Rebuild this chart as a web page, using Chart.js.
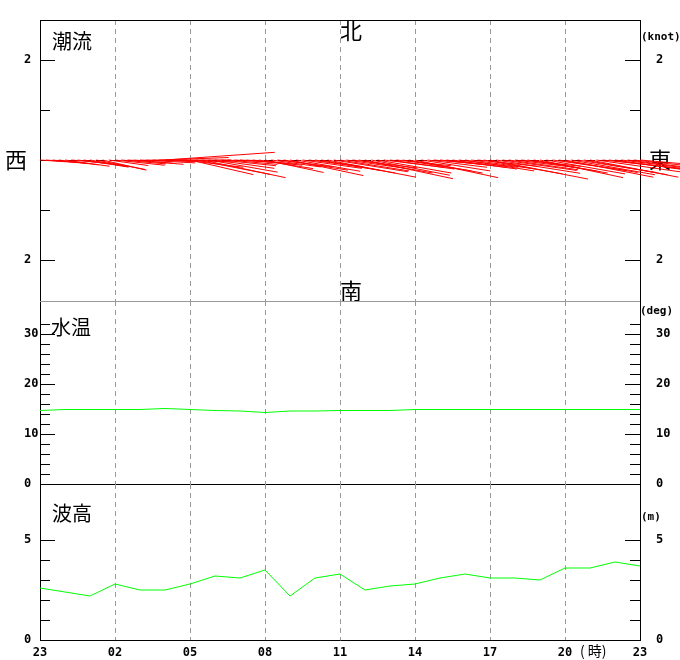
<!DOCTYPE html>
<html>
<head>
<meta charset="utf-8">
<script src="https://cdn.jsdelivr.net/npm/chart.js@4/dist/chart.umd.min.js"></script>
<style>
  body { margin: 0; background: #fff; }
  #wrap { position: relative; width: 680px; height: 660px; }
  canvas { position: absolute; left: 0; }
</style>
</head>
<body>
<div id="wrap">
  <canvas id="current" width="680" height="303" style="top:0"></canvas>
  <canvas id="temp" width="680" height="194" style="top:296px"></canvas>
  <canvas id="wave" width="680" height="180" style="top:480px"></canvas>
</div>
<script>
// hours counted from 23:00 of the previous day
const hours = [0, 1, 2, 3, 4, 5, 6, 7, 8, 9, 10, 11, 12, 13, 14, 15, 16, 17, 18, 19, 20, 21, 22, 23, 24];
const hourTicks = [0, 3, 6, 9, 12, 15, 18, 21, 24];
const hourLabels = ['23', '02', '05', '08', '11', '14', '17', '20', '23'];

// tidal current, every 15 min: speed (knot) and direction it flows to (deg)
const stickHours = [
  0, 0.25, 0.5, 0.75, 1, 1.25, 1.5, 1.75, 2, 2.25, 2.5, 2.75,
  3, 3.25, 3.5, 3.75, 4, 4.25, 4.5, 4.75, 5, 5.25, 5.5, 5.75,
  6, 6.25, 6.5, 6.75, 7, 7.25, 7.5, 7.75, 8, 8.25, 8.5, 8.75,
  9, 9.25, 9.5, 9.75, 10, 10.25, 10.5, 10.75, 11, 11.25, 11.5, 11.75,
  12, 12.25, 12.5, 12.75, 13, 13.25, 13.5, 13.75, 14, 14.25, 14.5, 14.75,
  15, 15.25, 15.5, 15.75, 16, 16.25, 16.5, 16.75, 17, 17.25, 17.5, 17.75,
  18, 18.25, 18.5, 18.75, 19, 19.25, 19.5, 19.75, 20, 20.25, 20.5, 20.75,
  21, 21.25, 21.5, 21.75, 22, 22.25, 22.5, 22.75, 23, 23.25, 23.5, 23.75, 24];
const stickSpeeds = [
  0.5, 0.6, 0.7, 0.8, 0.9, 0.7, 1.0, 0.9, 0.8, 1.0, 0.9, 0.8,
  1.0, 0.9, 0.9, 1.0, 1.1, 1.0, 1.2, 1.4, 2.2, 1.2, 1.1, 1.2,
  1.3, 1.5, 1.7, 1.4, 1.2, 1.1, 1.0, 0.9, 0.9, 1.0, 1.0, 1.1,
  1.2, 1.0, 1.1, 1.3, 1.5, 1.3, 1.2, 1.1, 1.3, 1.5, 1.8, 1.5,
  1.4, 1.2, 1.3, 1.5, 1.8, 1.6, 1.5, 1.2, 1.3, 1.1, 1.4, 1.5,
  1.7, 1.4, 1.2, 1.0, 1.1, 1.2, 1.3, 1.2, 1.4, 1.3, 1.2, 1.6,
  2.0, 1.7, 1.5, 1.4, 1.3, 1.2, 1.4, 1.5, 1.7, 1.6, 1.5, 1.6,
  1.8, 1.7, 1.6, 1.7, 1.8, 1.8, 1.7, 1.6, 1.5, 1.4, 1.3, 1.2, 1.0];
const stickDirs = [
  94, 95, 96, 97, 98, 95, 97, 99, 100, 101, 103, 98,
  96, 95, 94, 95, 93, 92, 91, 88, 86, 90, 92, 97,
  103, 101, 102, 100, 98, 96, 95, 93, 94, 95, 96, 99,
  102, 98, 97, 99, 102, 100, 98, 97, 99, 100, 101, 99,
  99, 98, 97, 100, 102, 101, 100, 97, 98, 96, 99, 100,
  102, 99, 97, 95, 96, 97, 98, 97, 99, 98, 96, 100,
  101, 99, 98, 98, 97, 96, 99, 100, 102, 100, 98, 99,
  101, 100, 99, 100, 101, 98, 96, 97, 98, 97, 97, 96, 95];

const waterTemp = [14.7, 14.9, 14.9, 14.9, 14.9, 15.1, 14.9, 14.7, 14.6, 14.3, 14.6, 14.6, 14.7,
  14.7, 14.7, 14.9, 14.9, 14.9, 14.9, 14.9, 14.9, 14.9, 14.9, 14.9, 14.9];
const waveHeight = [2.6, 2.4, 2.2, 2.8, 2.5, 2.5, 2.8, 3.2, 3.1, 3.5, 2.2, 3.1, 3.3,
  2.5, 2.7, 2.8, 3.1, 3.3, 3.1, 3.1, 3.0, 3.6, 3.6, 3.9, 3.7];

const knotTicks = [-2, -1, 1, 2];
const knotLabeled = [-2, 2];
const degTicks = [0, 2, 4, 6, 8, 10, 12, 14, 16, 18, 20, 22, 24, 26, 28, 30, 32];
const degLabeled = [0, 10, 20, 30];
const waveTicks = [0, 1, 2, 3, 4, 5];
const waveLabeled = [0, 5];

const tickFont = { family: 'DejaVu Sans Mono', size: 12, weight: 'bold' };
const unitFont = 'bold 11px "DejaVu Sans Mono"';
const titleFont = '20px "Noto Sans CJK JP"';
const dirFont = '22px "Noto Sans CJK JP"';
const lineGreen = '#00ff00';

function xAxis(showLabels) {
  return {
    type: 'linear', min: 0, max: 24,
    afterBuildTicks: s => { s.ticks = hourTicks.map(v => ({ value: v })); },
    afterFit: s => { s.height = showLabels ? 20 : 0; },
    grid: {
      drawTicks: false,
      color: c => (c.tick && c.tick.value % 24 === 0 ? 'rgba(0,0,0,0)' : '#999'),
    },
    border: { display: true, color: '#000', dash: [5, 4] },
    ticks: {
      display: showLabels, autoSkip: false, maxRotation: 0, padding: 6,
      color: '#000', font: tickFont,
      callback: (v, i) => hourLabels[i],
    },
  };
}

function yAxis(position, min, max, ticks, labeled) {
  return {
    type: 'linear', position, min, max,
    afterBuildTicks: s => { s.ticks = ticks.map(v => ({ value: v })); },
    afterFit: s => {
      s.width = position === 'left' ? 16 : 40;
      s.paddingTop = 0;
      s.paddingBottom = 0;
    },
    grid: { display: false },
    border: { display: true, color: '#000', width: 1 },
    ticks: {
      autoSkip: false, padding: 8, color: '#000', font: tickFont,
      crossAlign: position === 'left' ? 'far' : 'near',
      callback: v => (labeled.includes(v) ? String(Math.abs(v)) : ''),
    },
  };
}

// short tick marks drawn inwards from both vertical axes, plus the top edge
const innerTicks = {
  id: 'innerTicks',
  afterDraw(chart, args, opts) {
    const { ctx, chartArea: a } = chart;
    const ys = chart.scales.y;
    ctx.save();
    ctx.strokeStyle = '#000';
    ctx.lineWidth = 1;
    opts.values.forEach(v => {
      const y = Math.round(ys.getPixelForValue(v)) + 0.5;
      const len = opts.labeled.includes(v) ? 15 : 10;
      ctx.beginPath();
      ctx.moveTo(a.left, y);
      ctx.lineTo(a.left + len, y);
      ctx.moveTo(a.right, y);
      ctx.lineTo(a.right - len, y);
      ctx.stroke();
    });
    if (opts.topLine) {
      ctx.strokeStyle = opts.topLine;
      ctx.beginPath();
      ctx.moveTo(a.left, Math.round(a.top) + 0.5);
      ctx.lineTo(a.right, Math.round(a.top) + 0.5);
      ctx.stroke();
    }
    ctx.restore();
  }
};

// free texts (titles, compass points, units)
const texts = {
  id: 'texts',
  beforeDatasetsDraw(chart, args, opts) {
    const { ctx, chartArea: a } = chart;
    ctx.save();
    ctx.fillStyle = '#000';
    ctx.textBaseline = 'middle';
    opts.items(a, chart.scales).forEach(t => {
      ctx.font = t.font;
      ctx.textAlign = t.align || 'left';
      ctx.fillText(t.text, t.x, t.y);
    });
    ctx.restore();
  }
};

// current vectors from the zero line
const sticks = {
  id: 'sticks',
  beforeDatasetsDraw(chart) {
    const { ctx, chartArea: a, scales: { y } } = chart;
    const y0 = Math.round(y.getPixelForValue(0)) + 0.5;
    ctx.save();
    ctx.strokeStyle = '#000';
    ctx.lineWidth = 1;
    ctx.setLineDash([9, 5]);
    ctx.beginPath();
    ctx.moveTo(a.left, y0);
    ctx.lineTo(a.right, y0);
    ctx.stroke();
    ctx.restore();
  },
  afterDatasetsDraw(chart) {
    const { ctx, scales: { x, y } } = chart;
    const y0 = y.getPixelForValue(0);
    const k = y0 - y.getPixelForValue(1);
    ctx.save();
    ctx.strokeStyle = '#ff0000';
    ctx.lineWidth = 1;
    stickHours.forEach((h, i) => {
      const r = stickDirs[i] * Math.PI / 180;
      const x0 = x.getPixelForValue(h);
      ctx.beginPath();
      ctx.moveTo(x0, y0);
      ctx.lineTo(x0 + stickSpeeds[i] * Math.sin(r) * k, y0 - stickSpeeds[i] * Math.cos(r) * k);
      ctx.stroke();
    });
    ctx.restore();
  }
};

const common = {
  responsive: false,
  animation: false,
  devicePixelRatio: 1,
  events: [],
};

const noLegend = { legend: { display: false }, tooltip: { enabled: false } };

new Chart(document.getElementById('current'), {
  type: 'line',
  data: { datasets: [] },
  options: {
    ...common,
    layout: { padding: { left: 24, right: 0, top: 20, bottom: 2 } },
    scales: {
      x: { ...xAxis(false), border: { display: false, dash: [5, 4] } },
      y: yAxis('left', -2.82, 2.8, knotTicks, knotLabeled),
      y2: yAxis('right', -2.82, 2.8, knotTicks, knotLabeled),
    },
    plugins: {
      ...noLegend,
      innerTicks: { values: knotTicks, labeled: knotLabeled, topLine: '#000' },
      texts: {
        items: (a, s) => {
          const cx = (a.left + a.right) / 2 + 11;
          const y0 = s.y.getPixelForValue(0);
          return [
            { text: '潮流', x: a.left + 12, y: a.top + 21, font: titleFont },
            { text: '北', x: cx, y: a.top + 11, font: dirFont, align: 'center' },
            { text: '南', x: cx, y: a.bottom - 10, font: dirFont, align: 'center' },
            { text: '西', x: a.left - 24, y: y0, font: dirFont, align: 'center' },
            { text: '東', x: a.right + 20, y: y0, font: dirFont, align: 'center' },
            { text: '(knot)', x: a.right + 1, y: a.top + 17, font: unitFont },
          ];
        }
      },
    },
  },
  plugins: [innerTicks, texts, sticks],
});

new Chart(document.getElementById('temp'), {
  type: 'line',
  data: {
    datasets: [{
      data: hours.map((h, i) => ({ x: h, y: waterTemp[i] })),
      borderColor: lineGreen, borderWidth: 1, pointRadius: 0, tension: 0,
    }],
  },
  options: {
    ...common,
    layout: { padding: { left: 24, right: 0, top: 5, bottom: 6 } },
    scales: {
      x: xAxis(false),
      y: yAxis('left', 0, 36.6, degTicks, degLabeled),
      y2: yAxis('right', 0, 36.6, degTicks, degLabeled),
    },
    plugins: {
      ...noLegend,
      innerTicks: { values: degTicks, labeled: degLabeled, topLine: '#999' },
      texts: {
        items: a => [
          { text: '水温', x: a.left + 11, y: a.top + 26, font: titleFont },
          { text: '(deg)', x: a.right, y: a.top + 10, font: unitFont },
        ]
      },
    },
  },
  plugins: [innerTicks, texts],
});

new Chart(document.getElementById('wave'), {
  type: 'line',
  data: {
    datasets: [{
      data: hours.map((h, i) => ({ x: h, y: waveHeight[i] })),
      borderColor: lineGreen, borderWidth: 1, pointRadius: 0, tension: 0,
    }],
  },
  options: {
    ...common,
    layout: { padding: { left: 24, right: 0, top: 4, bottom: 0 } },
    scales: {
      x: xAxis(true),
      y: yAxis('left', 0, 7.8, waveTicks, waveLabeled),
      y2: yAxis('right', 0, 7.8, waveTicks, waveLabeled),
    },
    plugins: {
      ...noLegend,
      innerTicks: { values: waveTicks, labeled: waveLabeled },
      texts: {
        items: a => [
          { text: '波高', x: a.left + 12, y: a.top + 29, font: titleFont },
          { text: '(m)', x: a.right + 1, y: a.top + 33, font: unitFont },
          { text: '( 時)', x: a.right - 60, y: a.bottom + 11, font: '14px "Noto Sans CJK JP"' },
        ]
      },
    },
  },
  plugins: [innerTicks, texts],
});
</script>
</body>
</html>
